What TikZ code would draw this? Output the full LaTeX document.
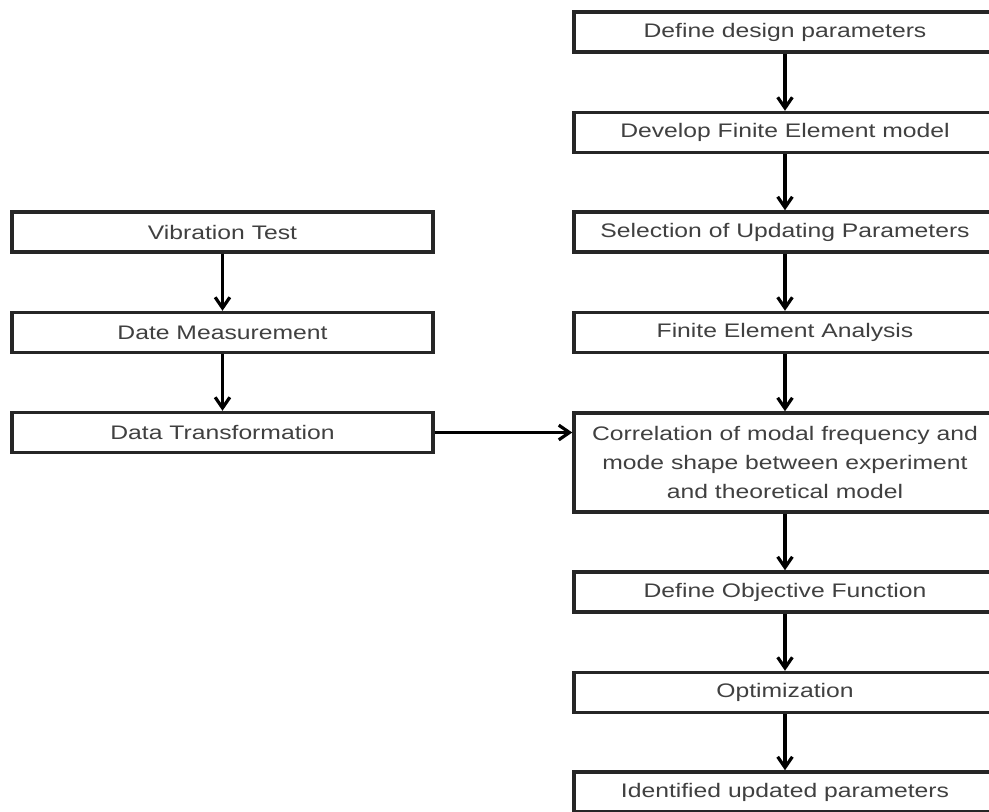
\documentclass[tikz,border=0pt]{standalone}
\usepackage{graphicx}
\usepackage{fontspec}
\setmainfont{Liberation Sans}
\usetikzlibrary{arrows.meta}
% 横向拉宽的文字
\newcommand{\wtext}[1]{\scalebox{1.26}[1]{#1}}
\tikzset{
  box/.style={draw=black!85, line width=2.6pt, fill=white, inner sep=0pt,
    minimum height=30pt, text=black!75, align=center,
    font=\fontsize{14.7}{22}\selectfont},
  rbox/.style={box, minimum width=316.5pt},
  lbox/.style={box, minimum width=315.75pt},
  arr/.style={-{Straight Barb[length=8pt,width=11pt]}, line width=2.4pt}
}
\begin{document}
\begin{tikzpicture}[x=0.75pt, y=-0.75pt]
\path[use as bounding box, fill=white] (0,0) rectangle (989,811);

% 右侧：有限元模型
\node[rbox] (dp)  at (785,32)    {\wtext{Define design parameters}};
\node[rbox] (fem) at (785,132.5) {\wtext{Develop Finite Element model}};
\node[rbox] (sel) at (785,232)   {\wtext{Selection of Updating Parameters}};
\node[rbox] (fea) at (785,332.5) {\wtext{Finite Element Analysis}};
\node[rbox, minimum height=74.25pt] (cor) at (785,462.5)
  {\wtext{Correlation of modal frequency and}\\
   \wtext{mode shape between experiment}\\
   \wtext{and theoretical model}};
\node[rbox] (obj) at (785,592)   {\wtext{Define Objective Function}};
\node[rbox] (opt) at (785,692.5) {\wtext{Optimization}};
\node[rbox] (idp) at (785,792)   {\wtext{Identified updated parameters}};

% 左侧：试验
\node[lbox] (vt) at (222.5,232)   {\wtext{Vibration Test}};
\node[lbox] (dm) at (222.5,332.5) {\wtext{Date Measurement}};
\node[lbox] (dt) at (222.5,432.5) {\wtext{Data Transformation}};

% 箭头
\draw[arr] (dp) -- (fem);
\draw[arr] (fem) -- (sel);
\draw[arr] (sel) -- (fea);
\draw[arr] (fea) -- (cor);
\draw[arr] (cor) -- (obj);
\draw[arr] (obj) -- (opt);
\draw[arr] (opt) -- (idp);
\draw[arr] (vt) -- (dm);
\draw[arr] (dm) -- (dt);
\draw[arr] (dt.east) -- (dt.east -| cor.west); % 数据 -> 相关
\end{tikzpicture}
\end{document}
